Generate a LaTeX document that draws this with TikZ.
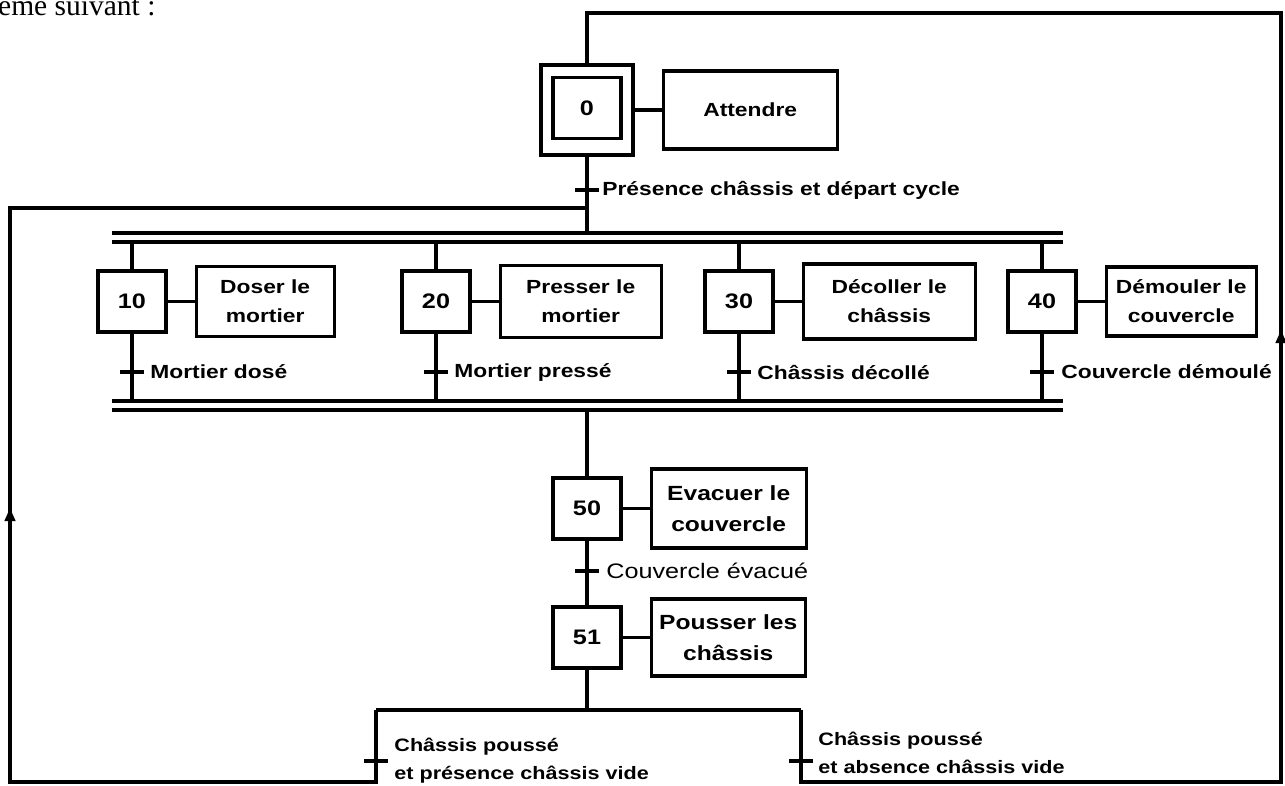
\documentclass[tikz,border=0pt]{standalone}
\usepackage{fontspec}
\setmainfont{Liberation Serif}
\newfontfamily\grafcet[FakeStretch=1.2]{Liberation Sans}
\usetikzlibrary{positioning,arrows.meta}

\tikzset{
  trait/.style={line width=3.2pt},
  etape/.style={draw, line width=3.2pt, minimum width=68pt, minimum height=61pt, inner sep=0pt,
    font={\grafcet\bfseries\fontsize{21}{24}\selectfont}},
  action/.style={draw, line width=3.2pt, align=center, inner sep=0pt,
    font={\grafcet\bfseries\fontsize{19}{29}\selectfont}},
  grande action/.style={action, font={\grafcet\bfseries\fontsize{20.5}{31}\selectfont}},
  recep/.style={fill, minimum width=24pt, minimum height=4.5pt, inner sep=0pt},
  condition/.style={inner sep=1pt, font={\grafcet\bfseries\fontsize{19}{29}\selectfont}},
  condition bas/.style={inner sep=1pt, align=left, font={\grafcet\bfseries\fontsize{18}{28}\selectfont}},
  fleche/.style={-{Latex[length=16pt,width=12pt]}, line width=3.2pt},
}

\begin{document}
\begin{tikzpicture}[x=1pt,y=-1pt]
  \useasboundingbox (0,0) rectangle (1285,785);
  \node[anchor=base west, inner sep=0pt, font=\fontsize{29.5}{32}\selectfont] (intro) at (-2,15) {ème suivant :};

  % etape initiale
  \node[etape] (E0) at (587,108) {0};
  \node[draw, line width=3.2pt, minimum width=92pt, minimum height=90pt] (E0b) at (587,110) {};
  \node[action, minimum width=174pt, minimum height=78pt, right=27pt of E0b] (A0) {Attendre};
  \draw[trait] (E0b) -- (A0);
  \node[recep] (T0) at (587,190) {};
  \node[condition, right=2pt of T0] (R0) {Présence châssis et départ cycle};

  % divergence en ET
  \coordinate (divH1) at (587,233);
  \coordinate (divH) at (587,242);
  \coordinate (divB) at (587,401);
  \coordinate (divB2) at (587,410);
  \draw[trait] (112,233) -- (1063,233) (112,242) -- (1063,242);
  \draw[trait] (112,401) -- (1063,401) (112,410) -- (1063,410);
  \draw[trait] (E0b.south) -- (divH1);

  \node[etape] (E10) at (132,301.5) {10};
  \node[action, minimum width=138pt, minimum height=70pt, right=27pt of E10] (A10) {Doser le\\mortier};
  \node[etape] (E20) at (436,301.5) {20};
  \node[action, minimum width=161pt, minimum height=72pt, right=27pt of E20] (A20) {Presser le\\mortier};
  \node[etape] (E30) at (739,301.5) {30};
  \node[action, minimum width=172pt, minimum height=75pt, right=27pt of E30] (A30) {Décoller le\\châssis};
  \node[etape] (E40) at (1042,301.5) {40};
  \node[action, minimum width=150pt, minimum height=69pt, right=27pt of E40] (A40) {Démouler le\\couvercle};
  \draw[trait] (E10) -- (A10) (E20) -- (A20) (E30) -- (A30) (E40) -- (A40);
  \draw[trait] (E10.north) -- (E10.north |- divH) (E10.south) -- (E10.south |- divB);
  \draw[trait] (E20.north) -- (E20.north |- divH) (E20.south) -- (E20.south |- divB);
  \draw[trait] (E30.north) -- (E30.north |- divH) (E30.south) -- (E30.south |- divB);
  \draw[trait] (E40.north) -- (E40.north |- divH) (E40.south) -- (E40.south |- divB);

  \node[recep] (T10) at (132,372) {};
  \node[condition, right=5pt of T10] (R10) {Mortier dosé};
  \node[recep] (T20) at (436,372) {};
  \node[condition, right=5pt of T20] (R20) {Mortier pressé};
  \node[recep] (T30) at (739,372) {};
  \node[condition, right=5pt of T30] (R30) {Châssis décollé};
  \node[recep] (T40) at (1042,372) {};
  \node[condition, right=6pt of T40] (R40) {Couvercle démoulé};

  % evacuation
  \node[etape] (E50) at (587,508.5) {50};
  \node[grande action, minimum width=155pt, minimum height=79pt, right=27pt of E50] (A50) {Evacuer le\\couvercle};
  \draw[trait] (divB2) -- (E50) (E50) -- (A50);
  \node[recep] (T50) at (587,571) {};
  \node[condition, right=6pt of T50, font={\grafcet\fontsize{21}{24}\selectfont}] (R50) {Couvercle évacué};
  \node[etape] (E51) at (587,637.5) {51};
  \node[grande action, minimum width=154pt, minimum height=77pt, right=27pt of E51] (A51) {Pousser les\\châssis};
  \draw[trait] (E50) -- (E51) (E51) -- (A51);

  % selection de sequence
  \coordinate (sel) at (587,710);
  \coordinate (selG) at (376,710);
  \coordinate (selD) at (801,710);
  \draw[trait] (E51.south) -- (sel) (selG) -- (selD);
  \node[recep] (TG) at (376,761) {};
  \node[condition bas, right=5pt of TG] (RG) {Châssis poussé\\et présence châssis vide};
  \node[recep] (TD) at (801,761) {};
  \node[condition bas, right=4pt of TD, yshift=8pt] (RD) {Châssis poussé\\et absence châssis vide};

  % retours
  \coordinate (basG) at (10,782);
  \coordinate (hautG) at (10,208);
  \coordinate (flecheG) at (10,505);
  \coordinate (jonc) at (587,208);
  \draw[trait] (selG) |- (basG) -- (hautG) -- (jonc);
  \draw[fleche] (basG) -- (flecheG);
  \coordinate (basD) at (1281,782);
  \coordinate (hautD) at (1281,13);
  \coordinate (flecheD) at (1281,327);
  \draw[trait] (selD) |- (basD) -- (hautD) -| (E0b.north);
  \draw[fleche] (basD) -- (flecheD);
\end{tikzpicture}
\end{document}
